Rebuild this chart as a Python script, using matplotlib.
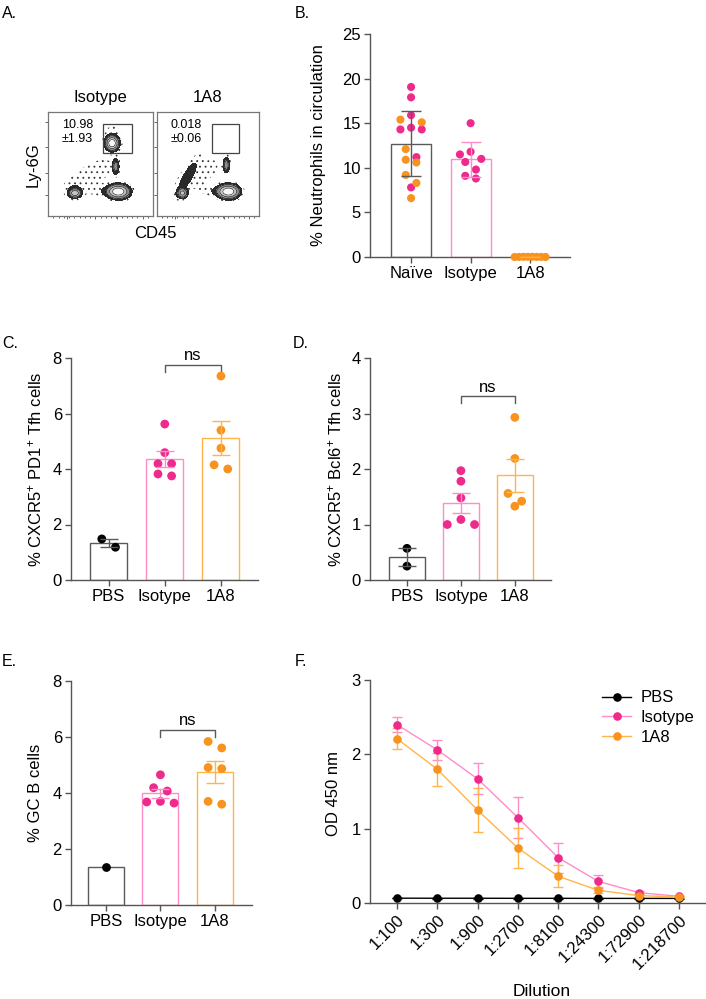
import numpy as np
import matplotlib
matplotlib.use('Agg')
import matplotlib.pyplot as plt
from matplotlib.patches import Rectangle

plt.rcParams['font.family'] = ['Liberation Sans', 'DejaVu Sans']
plt.rcParams['mathtext.fontset'] = 'custom'
plt.rcParams['mathtext.rm'] = 'Liberation Sans'
plt.rcParams['mathtext.it'] = 'Liberation Sans:italic'
plt.rcParams['font.size'] = 12
plt.rcParams['hatch.color'] = '#333333'
plt.rcParams['hatch.linewidth'] = 0.6

# ---------------- data ----------------
# A: flow populations (centre x, centre y, spread x, spread y, angle, peak) in plot fraction
iso_pop_x = [0.61, 0.62, 0.645, 0.67, 0.55, 0.257, 0.25, 0.40]
iso_pop_y = [0.70, 0.76, 0.475, 0.235, 0.24, 0.22, 0.27, 0.38]
iso_pop_sx = [0.030, 0.05, 0.017, 0.052, 0.08, 0.030, 0.05, 0.20]
iso_pop_sy = [0.033, 0.07, 0.040, 0.033, 0.03, 0.022, 0.05, 0.09]
iso_pop_ang = [0, 0, 0, 0, 0, 0, 0, 35]
iso_pop_peak = [1.0, 0.03, 0.2, 1.0, 0.035, 0.5, 0.03, 0.018]

a8_pop_x = [0.68, 0.70, 0.58, 0.25, 0.30, 0.42]
a8_pop_y = [0.49, 0.235, 0.24, 0.22, 0.38, 0.40]
a8_pop_sx = [0.017, 0.052, 0.08, 0.026, 0.12, 0.20]
a8_pop_sy = [0.040, 0.033, 0.03, 0.024, 0.032, 0.09]
a8_pop_ang = [0, 0, 0, 0, 60, 35]
a8_pop_peak = [0.2, 1.0, 0.035, 0.4, 0.07, 0.015]

iso_gate_x = [0.527, 0.797]
iso_gate_y = [0.603, 0.885]
a8_gate_x = [0.54, 0.80]
a8_gate_y = [0.603, 0.885]
iso_gate_text = '10.98\n±1.93'
a8_gate_text = '0.018\n±0.06'

# B: % neutrophils in circulation
neut_groups = ['Naïve', 'Isotype', '1A8']
naive_neut = [19.06, 17.9, 15.9, 14.5, 14.3, 14.3, 11.2, 7.8,
              15.4, 15.1, 12.1, 10.9, 10.6, 9.2, 8.3, 6.6]
naive_cohort = ['Isotype'] * 8 + ['1A8'] * 8
iso_neut = [15.0, 11.8, 11.5, 11.0, 10.65, 9.8, 9.1, 8.8]
a8_neut = [0.02, 0.01, 0.02, 0.0, 0.01, 0.02, 0.0, 0.01]

# C, D, E
treat_groups = ['PBS', 'Isotype', '1A8']
pd1_pbs = [1.18, 1.48]
pd1_iso = [5.62, 4.59, 4.19, 4.19, 3.82, 3.75]
pd1_a8 = [7.35, 5.4, 4.75, 4.15, 4.0]

bcl6_pbs = [0.57, 0.25]
bcl6_iso = [1.97, 1.78, 1.48, 1.09, 1.0, 1.0]
bcl6_a8 = [2.93, 2.19, 1.56, 1.42, 1.33]

gcb_pbs = [1.37]
gcb_iso = [4.65, 4.19, 4.07, 3.70, 3.68, 3.64]
gcb_a8 = [5.84, 5.61, 4.91, 4.87, 3.70, 3.60]

# F: ELISA
dilutions = ['1:100', '1:300', '1:900', '1:2700', '1:8100', '1:24300', '1:72900', '1:218700']
od_pbs = [0.065, 0.064, 0.064, 0.063, 0.063, 0.062, 0.062, 0.062]
od_pbs_sem = [0.004, 0.004, 0.004, 0.004, 0.004, 0.004, 0.004, 0.004]
od_iso = [2.40, 2.06, 1.67, 1.15, 0.61, 0.29, 0.14, 0.09]
od_iso_sem = [0.10, 0.13, 0.21, 0.27, 0.20, 0.09, 0.02, 0.01]
od_a8 = [2.21, 1.80, 1.25, 0.74, 0.36, 0.17, 0.10, 0.08]
od_a8_sem = [0.14, 0.22, 0.30, 0.27, 0.15, 0.04, 0.02, 0.01]

# ---------------- style ----------------
PINK = '#EE2A8C'
PINK_LT = '#FF8DC8'
ORANGE = '#F7931E'
ORANGE_LT = '#FFB54A'
GREY = '#5A5A5A'
AXC = '#555555'
cohort_col = {'Isotype': PINK, '1A8': ORANGE}

W, H = 706, 999
fig = plt.figure(figsize=(W / 100, H / 100), dpi=100)


def px_axes(x0, y0, x1, y1):
    # axes from pixel box (left, top, right, bottom)
    return fig.add_axes([x0 / W, 1 - y1 / H, (x1 - x0) / W, (y1 - y0) / H])


def style_axes(ax):
    for s in ['top', 'right']:
        ax.spines[s].set_visible(False)
    for s in ['left', 'bottom']:
        ax.spines[s].set_color(AXC)
        ax.spines[s].set_linewidth(1.0)
    ax.tick_params(color=AXC, width=1.0, length=4.5, labelsize=12, pad=2)


def row_offsets(vals, ax, ylim, xlim, d_px, gap, max_half):
    # place dots in rows (GraphPad-like scatter)
    pos = ax.get_position()
    ppu_y = pos.height * H / (ylim[1] - ylim[0])
    ppu_x = pos.width * W / (xlim[1] - xlim[0])
    vals = np.asarray(vals, float)
    order = np.argsort(-vals)
    offs = np.zeros(len(vals))
    rows = []
    for i in order:
        if rows and (vals[rows[-1][0]] - vals[i]) * ppu_y < d_px:
            rows[-1].append(i)
        else:
            rows.append([i])
    for r in rows:
        n = len(r)
        slots = (np.arange(n) - (n - 1) / 2) * gap * d_px
        slots = sorted(slots, key=lambda v: (abs(v), v))
        for idx, sl in zip(r, slots):
            offs[idx] = sl
    m = np.abs(offs).max()
    lim = max_half * ppu_x
    if m > lim:
        offs *= lim / m
    return offs / ppu_x


def bar_panel(ax, groups, data, dot_cols, edge_cols, err_cols, ylim, yticks,
              xlim, bw, use_sd=False, ms=40, d_px=8.8, gap=1.55, capsize=6.5):
    style_axes(ax)
    for i, vals in enumerate(data):
        vals = np.asarray(vals, float)
        m = vals.mean()
        ax.bar(i, m, width=bw, facecolor='white', edgecolor=edge_cols[i], linewidth=1.0, zorder=1)
        offs = row_offsets(vals, ax, ylim, xlim, d_px, gap, 0.26)
        cols = dot_cols[i] if isinstance(dot_cols[i], list) else [dot_cols[i]] * len(vals)
        ax.scatter(i + offs, vals, s=ms, c=cols, linewidths=0, zorder=3, clip_on=False)
        if len(vals) > 1:
            e = vals.std(ddof=1)
            if not use_sd:
                e = e / np.sqrt(len(vals))
            ax.errorbar(i, m, yerr=e, color=err_cols[i], capsize=capsize, capthick=1.0,
                        elinewidth=1.0, zorder=4)
    ax.set_xlim(*xlim)
    ax.set_ylim(*ylim)
    ax.set_yticks(yticks)
    ax.set_xticks(range(len(groups)))
    ax.set_xticklabels(groups)


def ns_bracket(ax, x0, x1, y, drop):
    ax.plot([x0, x0, x1, x1], [y - drop, y, y, y - drop], color=GREY, lw=1.0, clip_on=False)
    ax.text((x0 + x1) / 2, y + drop * 0.2, 'ns', ha='center', va='bottom', fontsize=12)


def flow_plot(ax, px, py, sx, sy, ang, peak, gate_x, gate_y, gate_text, title):
    g = np.linspace(0, 1, 320)
    X, Y = np.meshgrid(g, g)
    Z = np.zeros_like(X)
    for cx, cy, ax_, ay_, a, p in zip(px, py, sx, sy, ang, peak):
        t = np.deg2rad(a)
        u = (X - cx) * np.cos(t) + (Y - cy) * np.sin(t)
        v = -(X - cx) * np.sin(t) + (Y - cy) * np.cos(t)
        Z += p * np.exp(-0.5 * ((u / ax_) ** 2 + (v / ay_) ** 2))
    ax.contourf(X, Y, Z, levels=[0.009, 0.04], colors='none', hatches=['...'])
    ax.contourf(X, Y, Z, levels=[0.04, 0.12, 0.3, 0.6, 5],
                colors=['#2a2a2a', '#8c8c8c', '#c4c4c4', '#f7f7f7'])
    ax.contour(X, Y, Z, levels=[0.12, 0.3, 0.6], colors='k', linewidths=0.4)
    ax.add_patch(Rectangle((gate_x[0], gate_y[0]), gate_x[1] - gate_x[0], gate_y[1] - gate_y[0],
                           fill=False, edgecolor='#444444', lw=0.9))
    ax.text(0.13, 0.93, gate_text, ha='left', va='top', fontsize=9, linespacing=1.15)
    ax.text(0.5, 1.07, title, ha='center', va='bottom', fontsize=12, transform=ax.transAxes)
    ax.set_xlim(0, 1)
    ax.set_ylim(0, 1)
    for s in ax.spines.values():
        s.set_color('#777777')
        s.set_linewidth(0.9)
    ax.set_xticks([0.18, 0.45, 0.66, 0.9])
    ax.set_xticks(np.linspace(0.05, 0.95, 19), minor=True)
    ax.set_yticks([0.20, 0.41, 0.666, 0.907])
    ax.tick_params(which='both', labelbottom=False, labelleft=False, color='#666666',
                   length=2.5, width=0.7)
    ax.tick_params(which='minor', length=1.5)


# ---------------- A ----------------
axA1 = px_axes(48, 112, 153, 216)
flow_plot(axA1, iso_pop_x, iso_pop_y, iso_pop_sx, iso_pop_sy, iso_pop_ang, iso_pop_peak,
          iso_gate_x, iso_gate_y, iso_gate_text, 'Isotype')
axA2 = px_axes(157, 112, 259, 216)
flow_plot(axA2, a8_pop_x, a8_pop_y, a8_pop_sx, a8_pop_sy, a8_pop_ang, a8_pop_peak,
          a8_gate_x, a8_gate_y, a8_gate_text, '1A8')
fig.text(33 / W, 1 - 165 / H, 'Ly-6G', rotation=90, ha='center', va='center', fontsize=12)
fig.text(155 / W, 1 - 233 / H, 'CD45', ha='center', va='center', fontsize=12)

# ---------------- B ----------------
axB = px_axes(370, 34, 570, 257)
bar_panel(axB, neut_groups, [naive_neut, iso_neut, a8_neut],
          [[cohort_col[c] for c in naive_cohort], PINK, ORANGE],
          [GREY, PINK_LT, ORANGE_LT], [GREY, PINK_LT, ORANGE_LT],
          (0, 25), [0, 5, 10, 15, 20, 25], (-0.69, 2.67), 0.67, use_sd=True,
          ms=34, d_px=8.2, gap=1.3, capsize=7)
fig.text(318 / W, 1 - 145 / H, '% Neutrophils in circulation', rotation=90,
         ha='center', va='center', fontsize=12)

# ---------------- C ----------------
axC = px_axes(71, 358, 258, 580)
bar_panel(axC, treat_groups, [pd1_pbs, pd1_iso, pd1_a8], ['k', PINK, ORANGE],
          [GREY, PINK_LT, ORANGE_LT], [GREY, PINK_LT, ORANGE_LT],
          (0, 8), [0, 2, 4, 6, 8], (-0.67, 2.66), 0.66)
ns_bracket(axC, 1, 2, 7.76, 0.25)
fig.text(35 / W, 1 - 469 / H, r'% CXCR5$^{+}$ PD1$^{+}$ Tfh cells', rotation=90,
         ha='center', va='center', fontsize=12)

# ---------------- D ----------------
axD = px_axes(370, 358, 551, 580)
bar_panel(axD, treat_groups, [bcl6_pbs, bcl6_iso, bcl6_a8], ['k', PINK, ORANGE],
          [GREY, PINK_LT, ORANGE_LT], [GREY, PINK_LT, ORANGE_LT],
          (0, 4), [0, 1, 2, 3, 4], (-0.685, 2.67), 0.67)
ns_bracket(axD, 1, 2, 3.31, 0.125)
fig.text(335 / W, 1 - 469 / H, r'% CXCR5$^{+}$ Bcl6$^{+}$ Tfh cells', rotation=90,
         ha='center', va='center', fontsize=12)

# ---------------- E ----------------
axE = px_axes(71, 681, 252, 905)
bar_panel(axE, treat_groups, [gcb_pbs, gcb_iso, gcb_a8], ['k', PINK, ORANGE],
          [GREY, PINK_LT, ORANGE_LT], [GREY, PINK_LT, ORANGE_LT],
          (0, 8), [0, 2, 4, 6, 8], (-0.64, 2.68), 0.66)
ns_bracket(axE, 1, 2, 6.26, 0.25)
fig.text(35 / W, 1 - 793 / H, '% GC B cells', rotation=90,
         ha='center', va='center', fontsize=12)

# ---------------- F ----------------
axF = px_axes(370, 680, 706, 903)
style_axes(axF)
xs = np.arange(len(dilutions))
for y, e, mc, lc, lab in [(od_pbs, od_pbs_sem, 'k', 'k', 'PBS'),
                          (od_iso, od_iso_sem, PINK, PINK_LT, 'Isotype'),
                          (od_a8, od_a8_sem, ORANGE, ORANGE_LT, '1A8')]:
    axF.errorbar(xs, y, yerr=e, fmt='none', ecolor=lc, elinewidth=1.0, capsize=3.8,
                 capthick=1.0, zorder=2)
    axF.plot(xs, y, color=lc, lw=1.0, marker='o', ms=6.2, mfc=mc, mec=mc, mew=0,
             label=lab, zorder=3, clip_on=False)
axF.set_xlim(-0.67, 7.67)
axF.set_ylim(0, 3)
axF.set_yticks([0, 1, 2, 3])
axF.set_xticks(xs)
axF.set_xticklabels(dilutions, rotation=45, ha='right', va='top', rotation_mode='anchor')
axF.legend(loc='upper left', bbox_to_anchor=(594 / W, 1 - 682 / H),
           bbox_transform=fig.transFigure, frameon=False, fontsize=12,
           handlelength=1.7, handletextpad=0.6, labelspacing=0.28, borderpad=0)
fig.text(333 / W, 1 - 793 / H, 'OD 450 nm', rotation=90, ha='center', va='center', fontsize=12)
fig.text(542 / W, 1 - 991 / H, 'Dilution', ha='center', va='center', fontsize=12.5)

# ---------------- panel letters ----------------
for lab, x, y in [('A.', 2, 13), ('B.', 295, 13), ('C.', 2, 344), ('D.', 293, 344),
                  ('E.', 2, 662), ('F.', 295, 662)]:
    fig.text(x / W, 1 - y / H, lab, ha='left', va='center', fontsize=11.5)

fig.savefig('out.png', dpi=100)
